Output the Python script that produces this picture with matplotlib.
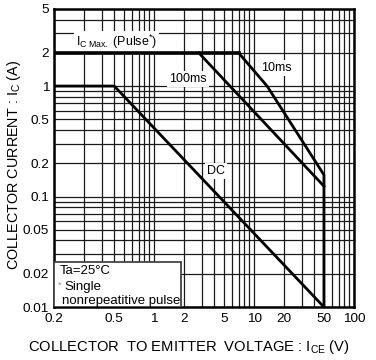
import numpy as np
import matplotlib.pyplot as plt
from matplotlib.patches import Rectangle

plt.rcParams['font.family'] = ['Liberation Sans', 'DejaVu Sans']
plt.rcParams['mathtext.fontset'] = 'custom'
plt.rcParams['mathtext.rm'] = 'Liberation Sans'
plt.rcParams['mathtext.it'] = 'Liberation Sans:italic'

# safe operating area curves (V_CE in volts, I_C in amps)
volts_dc = [0.1, 0.4, 50]
amps_dc = [1, 1, 0.01]
volts_pulse = [0.1, 7]
amps_pulse = [2, 2]
volts_10ms = [7, 13.5, 50, 50]
amps_10ms = [2, 1, 0.157, 0.01]
volts_100ms = [2.8, 50]
amps_100ms = [2, 0.124]

xticks = [0.1, 0.4, 1, 2, 5, 10, 20, 50, 100]
xtick_labels = ['0.2', '0.5', '1', '2', '5', '10', '20', '50', '100']
yticks = [0.01, 0.02, 0.05, 0.1, 0.2, 0.5, 1, 2, 5]
ytick_labels = ['0.01', '0.02', '0.05', '0.1', '0.2', '0.5', '1', '2', '5']

fig = plt.figure(figsize=(3.76, 3.6), dpi=100)
ax = fig.add_axes([0.1436, 0.1472, 0.798, 0.8283])
ax.set_xscale('log')
ax.set_yscale('log')
ax.set_xlim(0.1, 100)
ax.set_ylim(0.01, 5)

ax.set_axisbelow(True)
ax.grid(True, which='both', color='#1a1a1a', linewidth=0.9)
ax.set_xticks(xticks)
ax.set_xticklabels(xtick_labels)
ax.set_yticks(yticks)
ax.set_yticklabels(ytick_labels)
ax.tick_params(which='both', length=0, labelsize=9.7)
ax.tick_params(axis='x', pad=4)
ax.tick_params(axis='y', pad=3.5)
for s in ax.spines.values():
    s.set_linewidth(1.8)

ax.plot(volts_dc, amps_dc, color='black', lw=2.0, zorder=3)
ax.plot(volts_pulse, amps_pulse, color='black', lw=2.6, zorder=3)
ax.plot(volts_10ms, amps_10ms, color='black', lw=2.0, zorder=3)
ax.plot(volts_100ms, amps_100ms, color='black', lw=2.0, zorder=3)

wbox = dict(facecolor='white', edgecolor='none', pad=1.5)
ax.text(0.42, 2.5, r'I$_{\mathrm{C\ Max.}}$ (Pulse$^{*}$)', fontsize=9,
        ha='center', va='center', bbox=wbox, zorder=2)
ax.text(2.2, 1.16, '100ms', fontsize=9, ha='center', va='center', bbox=wbox, zorder=2)
ax.text(16.6, 1.46, '10ms', fontsize=9, ha='center', va='center', bbox=wbox, zorder=2)
ax.text(4.17, 0.171, 'DC', fontsize=9, ha='center', va='center', bbox=wbox, zorder=2)

# condition note in the lower left corner
ax.add_patch(Rectangle((0, 0), 0.423, 0.151, transform=ax.transAxes,
                       facecolor='white', edgecolor='#444444', lw=1.3, zorder=4))
ax.text(0.02, 0.122, 'Ta=25°C', transform=ax.transAxes, fontsize=9.5,
        va='center', zorder=5)
ax.text(0.013, 0.072, '*', transform=ax.transAxes, fontsize=6.5, color='#888888',
        va='center', zorder=5)
ax.text(0.034, 0.066, 'Single', transform=ax.transAxes, fontsize=9.5,
        va='center', zorder=5)
ax.text(0.026, 0.02, 'nonrepeatitive pulse', transform=ax.transAxes, fontsize=9.5,
        va='center', zorder=5)

ax.set_xlabel(r'COLLECTOR  TO EMITTER  VOLTAGE : I$_{\mathrm{CE}}$ (V)', fontsize=10.6)
ax.set_ylabel(r'COLLECTOR CURRENT : I$_{\mathrm{C}}$ (A)', fontsize=10.4)
ax.xaxis.set_label_coords(0.45, -0.105)
ax.yaxis.set_label_coords(-0.102, 0.475)

fig.savefig('out.png', dpi=100)
